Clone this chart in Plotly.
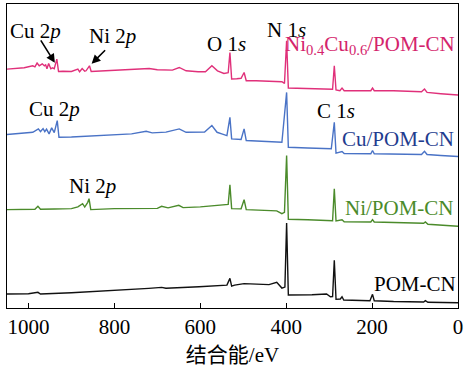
import plotly.graph_objects as go

# XPS survey spectra: binding energy (eV) and intensity (a.u., stacked offsets)
nicu_ev = [1050, 1030, 1010, 990, 985, 980, 975, 968, 963, 960, 957, 953, 948, 944, 940, 934,
           930, 920, 900, 885, 881, 875, 869, 866, 858, 854, 820, 790, 760, 719, 700, 665,
           649, 633, 605, 588, 573, 560, 545, 535, 531, 527, 515, 505, 498, 493, 470, 440,
           410, 404, 399, 395, 370, 340, 300, 292, 288, 284, 275, 270, 265, 240, 203, 199,
           195, 150, 120, 85, 78, 72, 40, 0]
nicu_int = [239.7, 240.5, 241, 243, 242, 245.7, 243, 245, 243, 244, 240, 245.3, 240, 241, 240, 249.7,
            237.3, 237.5, 237.3, 239.7, 237, 240.3, 237.5, 238, 243, 237.3, 238, 239, 239.3, 240.3, 239, 238.7,
            241.3, 238, 237, 237, 243, 238, 235.3, 236, 256.3, 229.7, 230, 230.5, 236.3, 228, 228, 227.5,
            227, 225.3, 268, 220.7, 220.5, 220, 219.7, 219.5, 243, 218.7, 218, 220.7, 218, 218, 218, 220.7,
            218, 218, 217.5, 217, 219.7, 216.3, 215, 213.7]

cu_ev = [1050, 1020, 990, 977, 972, 966, 962, 958, 952, 946, 940, 933, 929, 900, 850, 800,
         760, 726, 712, 680, 649, 633, 590, 573, 561, 550, 538, 531, 527, 505, 498, 493,
         450, 410, 399, 395, 350, 295, 288, 284, 270, 265, 203, 199, 195, 120, 85, 78,
         72, 40, 0]
cu_int = [174, 175, 176.3, 179.7, 177, 180, 177, 179.5, 174.7, 180.7, 176, 188, 171.3, 171.5, 172.5, 173.5,
          174.7, 177.3, 175.7, 176.5, 179.7, 176.3, 176.5, 183, 176.3, 174.7, 173, 191.3, 169.7, 169, 179.7, 168,
          167.5, 166.3, 216.3, 161.3, 160.5, 159.7, 186.3, 155.3, 157, 155, 154.7, 158, 154.7, 154.3, 154, 157.3,
          154, 153, 152]

ni_ev = [1050, 1000, 985, 978, 972, 940, 900, 885, 881, 874, 869, 862, 859, 855, 800, 760,
         700, 690, 675, 650, 640, 600, 557, 541, 535, 531, 527, 505, 498, 493, 450, 422,
         410, 404, 399, 395, 350, 300, 292, 288, 284, 270, 265, 203, 199, 195, 120, 80,
         76, 70, 0]
ni_int = [98.7, 99, 99, 102, 99, 99.3, 99.7, 101.5, 103, 104.7, 101.3, 106, 109.7, 98.7, 99.7, 99.8,
          100, 102, 100.5, 103, 100.7, 101.5, 103, 104, 104, 123.7, 99.7, 99.5, 108.7, 98.7, 98, 97.5,
          94.7, 96, 153, 89, 88.5, 88, 87.5, 119.7, 87.3, 88.5, 86.5, 86.3, 88.7, 86.3, 85.5, 85,
          86.3, 84, 82]

pom_ev = [1050, 1000, 978, 972, 900, 800, 720, 690, 680, 603, 557, 538, 531, 527, 520, 498,
          440, 422, 410, 403, 399, 395, 340, 306, 297, 292, 288, 284, 274, 270, 266, 205,
          199, 195, 150, 80, 76, 70, 0]
pom_int = [14, 14.3, 15.7, 14, 15.3, 17.5, 19.7, 20.7, 19.8, 21.3, 23, 23, 29.7, 22, 23, 24.5,
           23.5, 25.7, 20, 21, 85.3, 13, 13.3, 14, 11.3, 11.5, 48, 8.7, 9, 11.3, 8, 7.3,
           13.7, 7.3, 6.5, 6, 7.3, 5.7, 5.3]

series = [
    ("Ni0.4Cu0.6/POM-CN", nicu_ev, nicu_int, "#e0307a"),
    ("Cu/POM-CN", cu_ev, cu_int, "#4a73c6"),
    ("Ni/POM-CN", ni_ev, ni_int, "#4b8b2b"),
    ("POM-CN", pom_ev, pom_int, "#111111"),
]

fig = go.Figure()
for name, xs, ys, color in series:
    fig.add_trace(go.Scatter(x=xs, y=ys, mode="lines", name=name,
                             line=dict(color=color, width=1.4), showlegend=False))

serif = "Liberation Serif"
cjk = "Liberation Serif, Noto Sans CJK SC"
fs = 21

labels = [
    ("Cu 2<i>p</i>", 983, 278, "center", "black"),
    ("Ni 2<i>p</i>", 804, 273, "center", "black"),
    ("O 1<i>s</i>", 539, 264.5, "center", "black"),
    ("N 1<i>s</i>", 399, 279, "center", "black"),
    ("Ni<sub>0.4</sub>Cu<sub>0.6</sub>/POM-CN", 2, 264, "right", "#d4246c"),
    ("Cu 2<i>p</i>", 939, 200, "center", "black"),
    ("C 1<i>s</i>", 283.6, 198, "center", "black"),
    ("Cu/POM-CN", 5, 170, "right", "#1f3d8f"),
    ("Ni/POM-CN", 5, 100, "right", "#4b8b2b"),
    ("Ni 2<i>p</i>", 851, 122.5, "center", "black"),
    ("POM-CN", 1, 24.3, "right", "black"),
]
for text, x, y, xa, color in labels:
    fig.add_annotation(x=x, y=y, text=text, showarrow=False, xanchor=xa, yanchor="middle",
                       font=dict(family=serif, size=fs, color=color))

# arrows pointing at the Cu 2p and Ni 2p peaks of the bimetallic sample
for x, y, ax, ay in [(938.6, 246, -15, -24), (853, 245, 15, -15)]:
    fig.add_annotation(x=x, y=y, ax=ax, ay=ay, text="", showarrow=True,
                       arrowhead=2, arrowsize=1.1, arrowwidth=1.6, arrowcolor="black")

fig.update_xaxes(range=[1050, 0], tickvals=[1000, 800, 600, 400, 200, 0],
                 ticks="inside", ticklen=5, tickwidth=1.2, tickcolor="black",
                 ticklabeloverflow="allow",
                 showline=True, linecolor="black", linewidth=1.4, mirror=True,
                 showgrid=False, zeroline=False,
                 tickfont=dict(family=serif, size=fs, color="black"),
                 title=dict(text="结合能/eV", standoff=8,
                            font=dict(family=cjk, size=fs, color="black")))
fig.update_yaxes(range=[0, 305], showticklabels=False, ticks="",
                 showline=True, linecolor="black", linewidth=1.4, mirror=True,
                 showgrid=False, zeroline=False)

fig.update_layout(width=466, height=370, margin=dict(l=7, r=5, t=3, b=62),
                  plot_bgcolor="white", paper_bgcolor="white",
                  font=dict(family=serif))

fig.write_html("out.html")
